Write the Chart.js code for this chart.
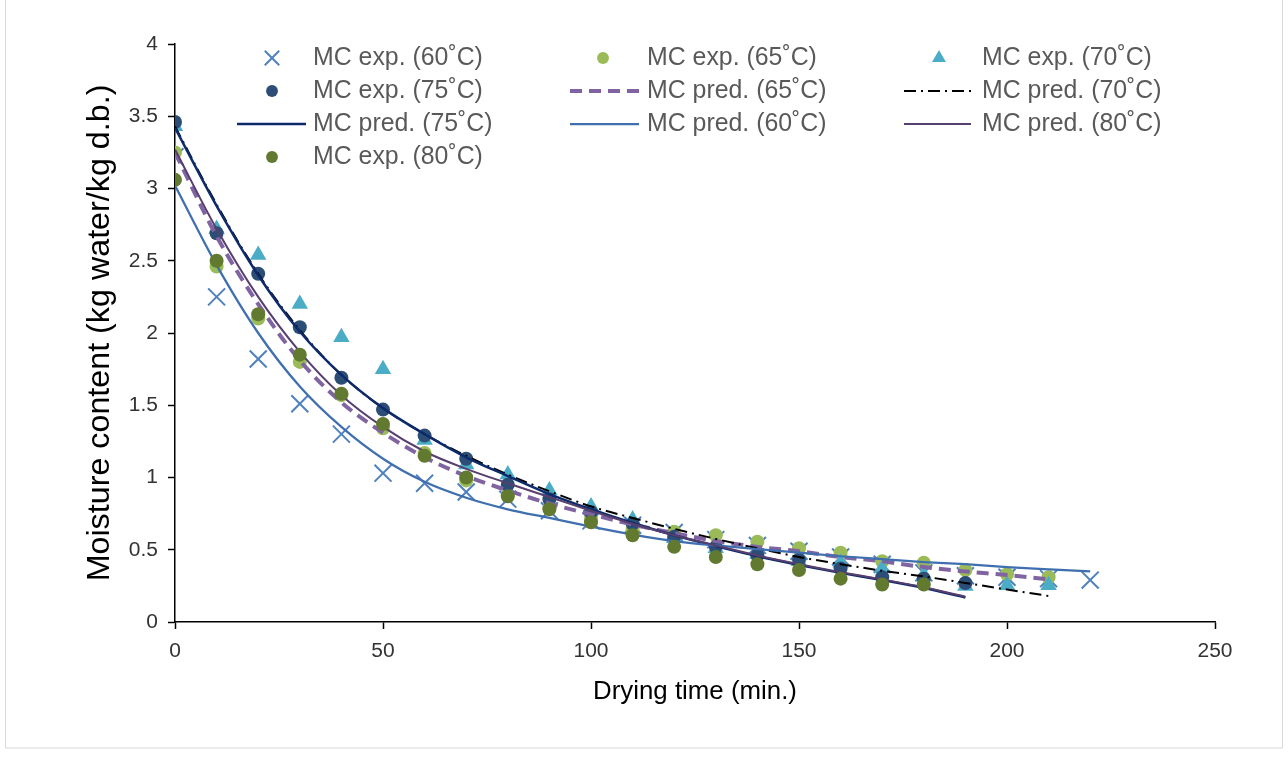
<!DOCTYPE html>
<html><head><meta charset="utf-8">
<script src="https://cdn.jsdelivr.net/npm/chart.js@4.4.1/dist/chart.umd.min.js"></script>
<style>html,body{margin:0;padding:0;background:#fff;}#wrap{width:1288px;height:771px;}</style>
</head><body><div id="wrap"><canvas id="c" width="1288" height="771"></canvas></div>
<script>
// ---- data ----
const time60 = [0,10,20,30,40,50,60,70,80,90,100,110,120,130,140,150,160,170,180,190,200,210,220];
const time65 = [0,10,20,30,40,50,60,70,80,90,100,110,120,130,140,150,160,170,180,190,200,210];
const time70 = [0,10,20,30,40,50,60,70,80,90,100,110,120,130,140,150,160,170,180,190,200,210];
const time75 = [0,10,20,30,40,50,60,70,80,90,100,110,120,130,140,150,160,170,180,190];
const time80 = [0,10,20,30,40,50,60,70,80,90,100,110,120,130,140,150,160,170,180];
const time80pred = [0,10,20,30,40,50,60,70,80,90,100,110,120,130,140,150,160,170,180,190];

const exp60 = [3.22,2.25,1.82,1.51,1.30,1.03,0.96,0.90,0.85,0.77,0.70,0.67,0.62,0.57,0.53,0.49,0.45,0.40,0.34,0.32,0.31,0.30,0.29];
const exp65 = [3.25,2.46,2.10,1.80,1.57,1.34,1.17,0.98,0.88,0.79,0.72,0.64,0.625,0.60,0.555,0.51,0.48,0.42,0.41,0.36,0.33,0.31];
const exp70 = [3.43,2.72,2.54,2.20,1.97,1.75,1.26,1.09,1.02,0.91,0.80,0.71,0.58,0.51,0.47,0.42,0.41,0.37,0.325,0.25,0.255,0.255];
const exp75 = [3.46,2.69,2.41,2.04,1.69,1.47,1.29,1.13,0.95,0.85,0.76,0.68,0.59,0.52,0.46,0.43,0.37,0.31,0.30,0.27];
const exp80 = [3.06,2.50,2.13,1.85,1.58,1.37,1.15,1.00,0.87,0.78,0.69,0.60,0.52,0.45,0.40,0.36,0.30,0.26,0.26];

const pred60 = [3.02,2.47,2.00,1.63,1.35,1.13,0.97,0.86,0.78,0.72,0.66,0.605,0.56,0.53,0.505,0.48,0.455,0.435,0.415,0.40,0.38,0.365,0.35];
const pred65 = [3.25,2.67,2.20,1.81,1.52,1.31,1.14,1.01,0.91,0.82,0.745,0.675,0.615,0.56,0.52,0.49,0.45,0.42,0.38,0.35,0.325,0.295];
const pred70 = [3.43,2.89,2.41,2.02,1.71,1.48,1.30,1.15,1.02,0.905,0.80,0.72,0.645,0.575,0.51,0.45,0.40,0.355,0.315,0.27,0.225,0.18];
const pred75 = [3.42,2.88,2.40,2.01,1.71,1.48,1.30,1.14,1.01,0.885,0.78,0.685,0.60,0.525,0.455,0.395,0.34,0.29,0.235,0.17];
const pred80 = [3.27,2.72,2.25,1.87,1.57,1.35,1.18,1.06,0.96,0.865,0.77,0.68,0.60,0.53,0.46,0.40,0.345,0.295,0.24,0.175];

const xTicksMax = 250, xStep = 50, yTicksMax = 4, yStep = 0.5;
const xTitle = 'Drying time (min.)';
const yTitle = 'Moisture content (kg water/kg d.b.)';

// ---- helpers ----
const FAM = "'Liberation Sans', Arial, sans-serif";
const mctx = document.createElement('canvas').getContext('2d');
function fit(text, target) { mctx.font = '100px ' + FAM; return 100 * target / mctx.measureText(text).width; }
const pts = (xs, ys) => ys.map((v, i) => ({x: xs[i], y: v}));

const legendFont = fit('MC exp. (60˚C)', 170);
const xTitleSize = fit(xTitle, 204);
const yTitleSize = fit(yTitle, 497);
const tickSize = fit('250', 35);

function expSet(label, xs, ys, color, style, r, bw) {
  return {label, data: pts(xs, ys), showLine: false, pointStyle: style, pointRadius: r, pointHoverRadius: r,
    backgroundColor: color, borderColor: color, pointBorderWidth: bw, pointBackgroundColor: color, pointBorderColor: color};
}
function predSet(label, xs, ys, color, width, dash) {
  return {label, data: pts(xs, ys), showLine: true, pointRadius: 0, pointHoverRadius: 0, borderColor: color,
    backgroundColor: color, borderWidth: width, borderDash: dash, cubicInterpolationMode: 'monotone', fill: false};
}

const datasets = [
  expSet('MC exp. (60˚C)', time60, exp60, '#4F81BD', 'crossRot', 12, 2),
  expSet('MC exp. (65˚C)', time65, exp65, '#9BBB59', 'circle', 7, 0),
  expSet('MC exp. (70˚C)', time70, exp70, '#4BACC6', 'triangle', 9.5, 0),
  expSet('MC exp. (75˚C)', time75, exp75, '#2C4D75', 'circle', 7, 0),
  predSet('MC pred. (65˚C)', time65, pred65, '#8064A2', 4, [12, 7]),
  predSet('MC pred. (70˚C)', time70, pred70, '#000000', 2, [12, 5, 2, 5]),
  predSet('MC pred. (75˚C)', time75, pred75, '#0D2A6B', 2.5, []),
  predSet('MC pred. (60˚C)', time60, pred60, '#3F6FAE', 2.25, []),
  predSet('MC pred. (80˚C)', time80pred, pred80, '#563F6E', 2, []),
  expSet('MC exp. (80˚C)', time80, exp80, '#617A30', 'circle', 7, 0)
];
datasets.forEach((d, i) => { d.order = datasets.length - i; });

// legend grid (row-major), positions
const legCols = [{m: 272, l0: 237, l1: 306, t: 313}, {m: 603, l0: 570, l1: 639, t: 647}, {m: 939, l0: 904, l1: 971, t: 982}];
const legRows = [58, 91, 124, 157];
const legMarkerScale = 0.85;

const legendPlugin = {
  id: 'gridLegend',
  afterDraw(chart) {
    const ctx = chart.ctx;
    chart.data.datasets.forEach((ds, i) => {
      const col = legCols[i % 3], y = legRows[Math.floor(i / 3)];
      ctx.save();
      if (ds.showLine) {
        ctx.strokeStyle = ds.borderColor; ctx.lineWidth = ds.borderWidth;
        ctx.setLineDash(ds.borderDash || []);
        ctx.beginPath(); ctx.moveTo(col.l0, y); ctx.lineTo(col.l1, y); ctx.stroke();
      } else {
        ctx.fillStyle = ds.pointBackgroundColor; ctx.strokeStyle = ds.pointBorderColor;
        ctx.lineWidth = ds.pointBorderWidth;
        Chart.helpers.drawPoint(ctx, {pointStyle: ds.pointStyle, radius: ds.pointRadius * legMarkerScale, rotation: 0, borderWidth: ds.pointBorderWidth}, col.m, y);
      }
      ctx.restore();
      ctx.save();
      ctx.fillStyle = '#595959'; ctx.font = legendFont + 'px ' + FAM;
      ctx.textBaseline = 'middle'; ctx.textAlign = 'left';
      ctx.fillText(ds.label, col.t, y);
      ctx.restore();
    });
  },
  beforeDraw(chart) {
    const ctx = chart.ctx;
    ctx.save(); ctx.fillStyle = '#fff'; ctx.fillRect(0, 0, chart.width, chart.height);
    ctx.strokeStyle = '#d9d9d9'; ctx.lineWidth = 1; ctx.strokeRect(5.5, -2, 1277, 750);
    ctx.restore();
  }
};

const PLOT = {left: 175, right: 1215, top: 44, bottom: 622};
const fmt = v => String(+Number(v).toFixed(2));

new Chart(document.getElementById('c'), {
  type: 'scatter',
  data: {datasets},
  options: {
    responsive: false, animation: false, devicePixelRatio: 1,
    layout: {padding: {left: 0, top: PLOT.top, right: 1288 - PLOT.right, bottom: 0}},
    plugins: {legend: {display: false}, tooltip: {enabled: false}},
    scales: {
      x: {
        type: 'linear', min: 0, max: xTicksMax,
        ticks: {stepSize: xStep, color: '#333', font: {family: FAM, size: tickSize}, padding: 10, maxRotation: 0, callback: fmt},
        grid: {display: true, drawOnChartArea: false, drawTicks: true, tickLength: 7, color: '#000', tickWidth: 1.5},
        border: {display: true, color: '#000', width: 1.5},
        title: {display: true, text: xTitle, color: '#000', font: {family: FAM, size: xTitleSize}, padding: {top: 0, bottom: 771 - 692 - xTitleSize * 0.6}},
        afterFit(s) { s.height = 771 - PLOT.bottom; }
      },
      y: {
        type: 'linear', min: 0, max: yTicksMax,
        ticks: {stepSize: yStep, color: '#333', font: {family: FAM, size: tickSize}, padding: 10, callback: fmt},
        grid: {display: true, drawOnChartArea: false, drawTicks: true, tickLength: 7, color: '#000', tickWidth: 1.5},
        border: {display: true, color: '#000', width: 1.5},
        title: {display: true, text: yTitle, color: '#000', font: {family: FAM, size: yTitleSize}, padding: {top: 100 - yTitleSize * 0.6, bottom: 0}},
        afterFit(s) { s.width = PLOT.left; }
      }
    }
  },
  plugins: [legendPlugin]
});
</script>
</body></html>
